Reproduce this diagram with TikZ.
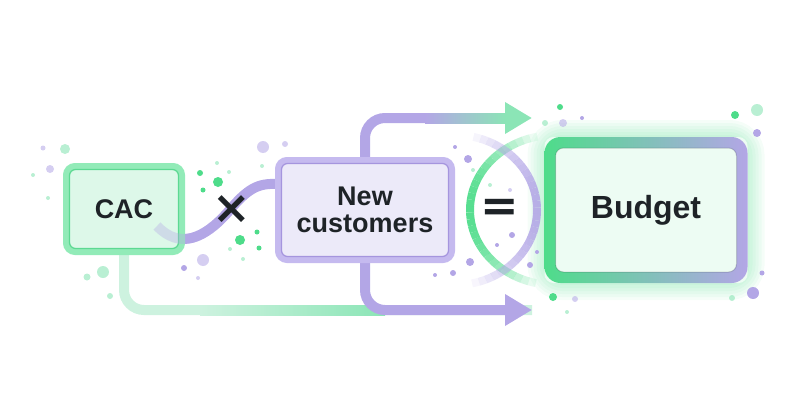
\documentclass[tikz,border=0pt]{standalone}
\usepackage{fontspec}
\setmainfont{Liberation Sans}
\newfontfamily\symfont{DejaVu Sans}
\usetikzlibrary{arrows.meta}
\pgfdeclarelayer{background}
\pgfsetlayers{background,main}

\definecolor{inkdark}{HTML}{1E2327}
\definecolor{cacfill}{HTML}{DDF8E9}
\definecolor{cacedge}{HTML}{92EBB8}
\definecolor{cacline}{HTML}{5CD992}
\definecolor{newfill}{HTML}{ECEAF9}
\definecolor{newedge}{HTML}{C5BAEF}
\definecolor{newline}{HTML}{A595DE}
\definecolor{budfill}{HTML}{EDFCF3}
\definecolor{greenmain}{HTML}{4EDC8A}
\definecolor{purplemain}{HTML}{B3A6E6}
\definecolor{mint}{HTML}{8BE5B6}
\definecolor{palemint}{HTML}{CDF2DF}

\tikzset{
  box/.style={rounded corners=9pt, line width=6pt, outer sep=0pt, inner sep=0pt,
    text=inkdark, align=center},
  cacbox/.style={box, fill=cacfill, draw=cacedge, minimum width=116pt, minimum height=86pt,
    font=\fontsize{27}{29}\selectfont\bfseries},
  newbox/.style={box, fill=newfill, draw=newedge, minimum width=174pt, minimum height=100pt,
    font=\fontsize{27}{27}\selectfont\bfseries},
  budbox/.style={box, fill=budfill, minimum width=203pt, minimum height=146pt,
    font=\fontsize{32}{34}\selectfont\bfseries},
  opsign/.style={text=inkdark, inner sep=0pt, font=\symfont\bfseries\fontsize{46}{46}\selectfont},
  flow/.style={line width=10pt, rounded corners=20pt},
  bigtip/.style={-{Triangle[length=27pt, width=30pt, color=#1]}},
  gdot/.style={fill=greenmain},
  gpale/.style={fill=mint, opacity=0.6},
  pdot/.style={fill=purplemain},
  ppale/.style={fill=purplemain, opacity=0.55}
}

\begin{document}
\begin{tikzpicture}[x=1pt, y=-1pt]
\useasboundingbox (0,0) rectangle (800,420);

% boxes
\node[cacbox] (cac) at (124,209) {CAC};
\node[newbox] (new) at (365,210) {New\\customers};
\node[budbox] (budget) at (646,210) {Budget};

\draw[cacline, line width=1.3pt, rounded corners=6pt]
  ([shift={(3.5,3.5)}]cac.north west) rectangle ([shift={(-3.5,-3.5)}]cac.south east);
\draw[newline, line width=1.3pt, rounded corners=6pt]
  ([shift={(3.5,3.5)}]new.north west) rectangle ([shift={(-3.5,-3.5)}]new.south east);

% budget ring with gradient
\shade[left color=greenmain, right color=purplemain, even odd rule]
  [rounded corners=16pt] (budget.north west) rectangle (budget.south east)
  [rounded corners=8pt] ([shift={(11,11)}]budget.north west) rectangle ([shift={(-11,-11)}]budget.south east);
\draw[inkdark, opacity=0.18, line width=1pt, rounded corners=8pt]
  ([shift={(11,11)}]budget.north west) rectangle ([shift={(-11,-11)}]budget.south east);

\coordinate (topend) at (532,118);
\coordinate (botend) at (532,310);
\coordinate (wavestart) at ([shift={(33,17)}]cac.center);
\coordinate (garc) at (555,210);
\coordinate (parc) at (455,210);

\begin{pgfonlayer}{background}
  % glow
  \foreach \w in {34,28,...,4}
    \draw[greenmain, opacity=0.06, line width=\w pt, rounded corners=18pt]
      (budget.north west) rectangle (budget.south east);
  % flows
  \draw[flow, purplemain, bigtip=mint] (new.north) |- (topend);
  \shade[left color=purplemain, right color=mint] (425,113) rectangle (506,123);
  \draw[flow, palemint] (cac.south) |- (botend);
  \shade[left color=palemint, right color=mint] (200,305) rectangle (385,315);
  \draw[flow, purplemain, bigtip=purplemain] (new.south) |- (botend);
  % wave from CAC into New customers
  \draw[purplemain, line width=10pt]
    (wavestart) .. controls (180,250) and (205,238) .. (228,212)
    .. controls (248,188) and (258,183) .. ([shift={(0,-26)}]new.west);
  % arcs round the equals sign
  \foreach \a in {102,107,...,253}{
    \pgfmathsetmacro\op{max(0,0.95*(1-((\a+2.5-180)/80)^2))}
    \draw[greenmain, line width=8pt, opacity=\op]
      ([shift={(\a:85pt and 75pt)}]garc) arc[start angle=\a, end angle=\a+5, x radius=85pt, y radius=75pt];
  }
  \foreach \a in {-78,-73,...,73}{
    \pgfmathsetmacro\op{max(0,0.9*(1-((\a+2.5)/80)^2))}
    \draw[purplemain, line width=8pt, opacity=\op]
      ([shift={(\a:82pt and 75pt)}]parc) arc[start angle=\a, end angle=\a+5, x radius=82pt, y radius=75pt];
  }
  % dots
  \foreach \x/\y/\r/\s in {
    65/149/5/gpale, 43/148/2.5/ppale, 50/169/4/ppale, 33/175/2/gpale, 48/198/2/gpale,
    103/272/6/gpale, 87/277/3.5/gpale, 110/296/3/gpale,
    200/173/3/gdot, 217/163/2/gpale, 218/182/5/gdot, 229/172/2/gpale, 203/190/2.5/gdot,
    263/147/6/ppale, 285/144/3/ppale, 262/166/2/gpale,
    240/240/5/gdot, 257/232/2.5/gdot, 259/248/2.5/gdot, 230/249/2/gpale, 243/259/2/gpale,
    203/260/6/ppale, 184/268/3/pdot, 198/278/2/ppale,
    455/147/2/pdot, 468/159/4/pdot, 490/185/2/gpale, 510/190/2/ppale, 473/170/2/gpale,
    512/235/3/pdot, 497/245/2/pdot, 470/262/4/pdot, 453/273/3/pdot, 435/275/2/pdot,
    530/265/3/pdot, 545/123/3/gpale, 560/107/3/gdot, 563/123/4/ppale, 582/118/2/pdot,
    735/115/4/gdot, 757/110/6/gpale, 757/133/4/pdot, 762/273/2.5/pdot, 753/293/6/pdot,
    732/298/3/gpale, 553/297/4/gdot, 575/299/3/ppale, 567/312/2/gpale, 537/252/2/pdot}
    \fill[\s] (\x,\y) circle[radius=\r pt];
\end{pgfonlayer}

% faint part of the wave inside CAC
\draw[purplemain, line width=10pt, opacity=0.35]
  (wavestart) .. controls (180,250) and (205,238) .. (228,212);

% operators
\node[opsign] (times) at (232,210) {×};
\node[opsign] (eq) at (500,210) {=};
\end{tikzpicture}
\end{document}
